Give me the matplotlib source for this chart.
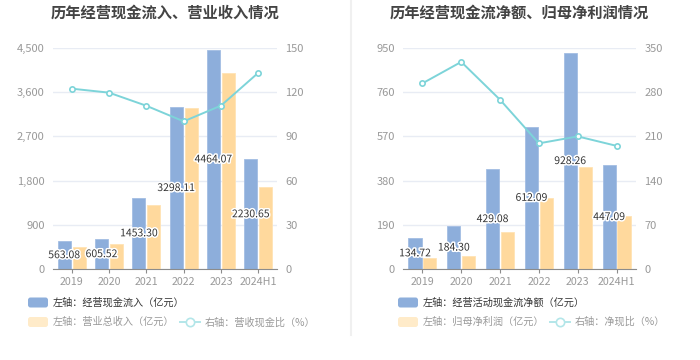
import matplotlib as mpl
import matplotlib.pyplot as plt
import matplotlib.patheffects as pe
from matplotlib.patches import FancyBboxPatch
from matplotlib.lines import Line2D
import numpy as np

# data
years = ['2019', '2020', '2021', '2022', '2023', '2024H1']

cash_in = [563.08, 605.52, 1453.30, 3298.11, 4464.07, 2230.65]      # 经营现金流入
revenue = [454, 509, 1303, 3272, 3997, 1663]                         # 营业总收入
cash_rev_ratio = [122.4, 119.7, 110.8, 100.2, 110.9, 133.2]          # 营收现金比

cash_net = [134.72, 184.30, 429.08, 612.09, 928.26, 447.09]          # 经营活动现金流净额
net_profit = [46, 56, 159, 306, 438, 228]                            # 归母净利润
net_cash_ratio = [294, 328, 268, 199, 210, 195]                      # 净现比

left_ticks_1 = [0, 900, 1800, 2700, 3600, 4500]
right_ticks_1 = [0, 30, 60, 90, 120, 150]
left_ticks_2 = [0, 190, 380, 570, 760, 950]
right_ticks_2 = [0, 70, 140, 210, 280, 350]

# style
mpl.rcParams['font.family'] = ['Noto Sans CJK SC', 'DejaVu Sans']
BLUE = '#8daedb'
YELLOW = '#ffd99d'
CYAN = '#7dd4d9'
GRID = '#e8ecf4'
TICK = '#999999'

W, H = 700, 360
fig = plt.figure(figsize=(7, 3.6), dpi=100)


def px_axes(x0, y0, x1, y1):
    # axes from pixel box (top-left origin)
    return fig.add_axes([x0 / W, 1 - y1 / H, (x1 - x0) / W, (y1 - y0) / H])


def panel(x0, x1, bars_a, bars_b, line, lt, rt, title, width, off):
    ax = px_axes(x0, 48, x1, 269)
    x = np.arange(len(years))
    ax.bar(x - off, bars_a, width=width, color=BLUE, ec='#a3bde3', lw=0.6, zorder=2)
    ax.bar(x + off, bars_b, width=width, color=YELLOW, ec='#ffe3b5', lw=0.6, zorder=2)
    ax.set_xlim(-0.5, len(years) - 0.5)
    ax.set_ylim(lt[0], lt[-1])
    ax.set_yticks(lt)
    ax.set_yticklabels([f'{v:,}' for v in lt])
    ax.set_xticks(x)
    ax.set_xticklabels(years)
    ax.grid(axis='y', color=GRID, lw=1, zorder=0)
    for s in ['top', 'right', 'left']:
        ax.spines[s].set_visible(False)
    ax.spines['bottom'].set_color('#8c8c8c')
    ax.tick_params(axis='y', length=0, labelsize=8, labelcolor=TICK, pad=6)
    ax.tick_params(axis='x', length=3, color='#8c8c8c', labelsize=7.7,
                   labelcolor=TICK, pad=3)

    for xi, v in zip(x, bars_a):
        ax.text(xi - off, v / 2, f'{v:.2f}', ha='center', va='center',
                fontsize=7.5, color='#333333', zorder=5,
                path_effects=[pe.withStroke(linewidth=2.2, foreground='white')])

    ax2 = ax.twinx()
    ax2.plot(x, line, color=CYAN, lw=1.4, marker='o', ms=3.8,
             mfc='white', mec=CYAN, mew=1.2, zorder=3)
    ax2.set_ylim(rt[0], rt[-1])
    ax2.set_yticks(rt)
    for s in ax2.spines.values():
        s.set_visible(False)
    ax2.tick_params(axis='y', length=0, labelsize=8, labelcolor=TICK, pad=6)

    fig.text((x0 + x1) / 2 / W, 1 - 13 / H, title, ha='center', va='center',
             fontsize=11, fontweight='bold', color='#444444')
    return ax


panel(53, 277, cash_in, revenue, cash_rev_ratio, left_ticks_1, right_ticks_1,
      '历年经营现金流入、营业收入情况', 0.35, 0.2)
panel(403, 636, cash_net, net_profit, net_cash_ratio, left_ticks_2, right_ticks_2,
      '历年经营现金流净额、归母净利润情况', 0.34, 0.19)

# overlay for legends and separator
ov = fig.add_axes([0, 0, 1, 1], zorder=-1)
ov.set_xlim(0, W)
ov.set_ylim(H, 0)
ov.axis('off')
ov.plot([351, 351], [0, 335], color='#f0f0f0', lw=1.5)


def legend(px, ytext, lx, ltext, bluetext):
    ov.add_patch(FancyBboxPatch((px, 297.5), 20, 10, boxstyle='round,pad=0,rounding_size=2.5',
                                fc=BLUE, ec='none'))
    ov.text(px + 25, 302.5, bluetext, va='center', fontsize=7.3, color='#333333')
    ov.add_patch(FancyBboxPatch((px, 317), 20, 10, boxstyle='round,pad=0,rounding_size=2.5',
                                fc='#ffebc9', ec='none'))
    ov.text(px + 25, 322, ytext, va='center', fontsize=7.3, color='#999999')
    ov.add_line(Line2D([lx, lx + 20], [322, 322], color='#b3e6e9', lw=1.4))
    ov.plot([lx + 10], [322], marker='o', ms=6, mfc='white', mec='#b3e6e9', mew=1.2)
    ov.text(lx + 25, 322, ltext, va='center', fontsize=7.3, color='#999999')


legend(28, '左轴：营业总收入（亿元）', 180, '右轴：营收现金比（%）',
       '左轴：经营现金流入（亿元）')
legend(398, '左轴：归母净利润（亿元）', 550, '右轴：净现比（%）',
       '左轴：经营活动现金流净额（亿元）')

fig.savefig('out.png', dpi=100)
